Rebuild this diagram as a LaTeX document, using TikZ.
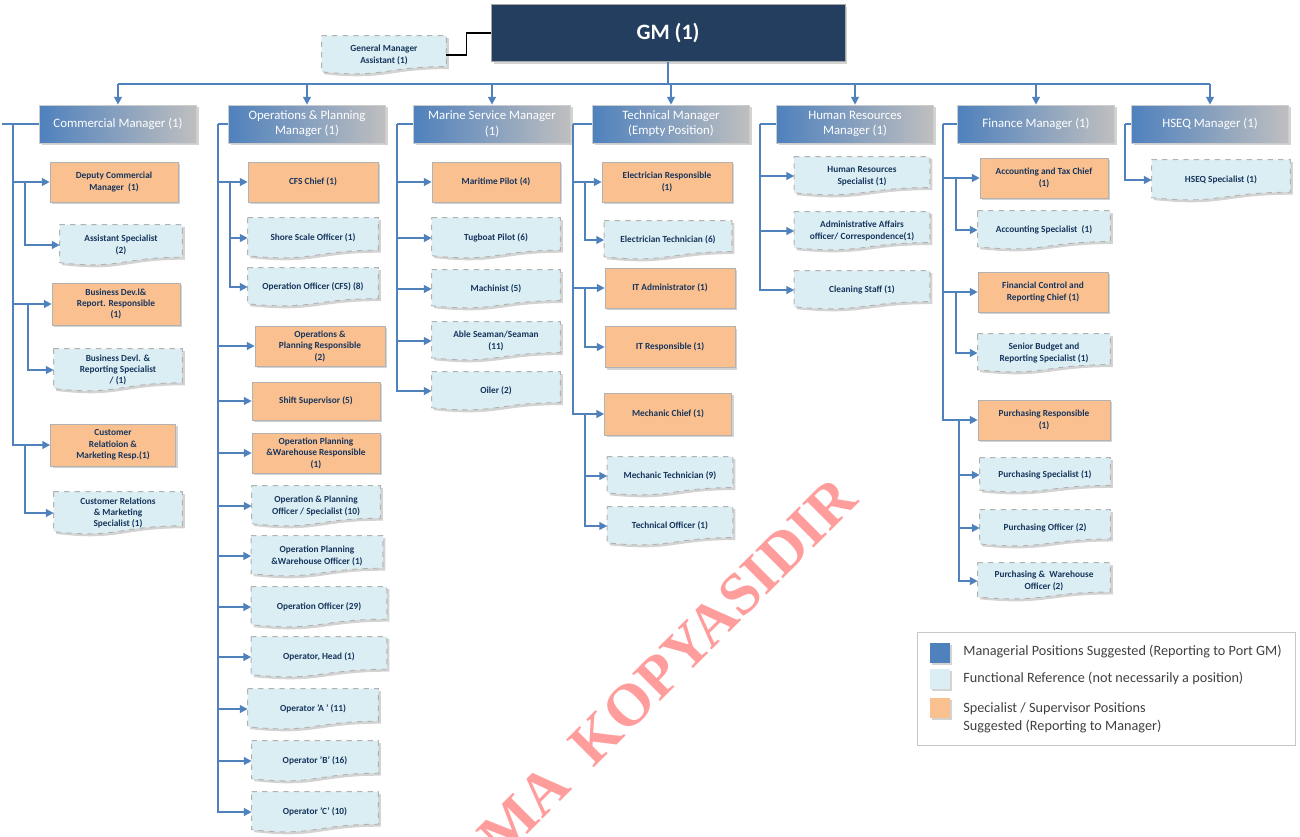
\documentclass[tikz,border=0pt]{standalone}
\usepackage{fontspec}
\setmainfont{Carlito}
\newfontfamily\markfont{Liberation Serif}
\usetikzlibrary{calc,arrows.meta,shadows,backgrounds}

\definecolor{gmnavy}{RGB}{36,62,96}
\definecolor{mgrblue}{RGB}{79,129,189}
\definecolor{mgrgray}{RGB}{191,191,191}
\definecolor{suporange}{RGB}{250,192,144}
\definecolor{reflight}{RGB}{219,238,244}
\definecolor{boxtext}{RGB}{23,54,93}
\definecolor{wmred}{RGB}{255,140,140}

\tikzset{
  x=0.02cm, y=-0.02cm,
  boxshadow/.style={drop shadow={opacity=0.35, shadow xshift=1.4pt, shadow yshift=-1.4pt}},
  gmbox/.style={fill=gmnavy, draw=gray!70, boxshadow, text=white, font=\bfseries\fontsize{12.5}{15}\selectfont,
    minimum width=7.08cm, minimum height=1.14cm},
  mgr/.style={left color=mgrblue, right color=mgrgray, draw=gray!40, boxshadow, text=white, align=center,
    font=\fontsize{7.3}{8.6}\selectfont, minimum width=3.14cm, minimum height=0.76cm, inner sep=1pt},
  sup/.style={fill=suporange, draw=gray!60, boxshadow, text=boxtext, align=center,
    font=\bfseries\fontsize{5.3}{6.5}\selectfont, minimum width=2.56cm, minimum height=0.8cm, inner sep=1pt},
  ref/.style={text=boxtext, align=center, font=\bfseries\fontsize{5.3}{6.5}\selectfont,
    minimum width=2.56cm, minimum height=0.8cm, inner sep=1pt},
  refbox/.style={fill=reflight, draw=gray!60, dashed, line width=0.5pt, boxshadow},
  link/.style={draw=mgrblue, line width=0.9pt, -{Triangle[length=4.5pt,width=4.5pt]}},
  bar/.style={draw=mgrblue, line width=0.9pt},
  legsq/.style={minimum size=0.4cm, inner sep=0pt, boxshadow},
  legtxt/.style={anchor=west, align=left, text=black!75, font=\fontsize{8.1}{10}\selectfont, inner sep=0pt}
}

% flowchart "document" outline round a ref node
\def\docshape#1{\filldraw[refbox] (#1.north west) -- (#1.north east)
  -- ($(#1.south east)!0.2!(#1.north east)$)
  .. controls ($(#1.south)!0.2!(#1.north)$) and ($(#1.south)!-0.108!(#1.north)$) ..
  ($(#1.south west)!0.066!(#1.north west)$) -- cycle;}

\begin{document}
\begin{tikzpicture}
\useasboundingbox (0,0) rectangle (1300,836);
%%%%% START %%%%%

% top
\node[gmbox] (gm) at (668,33) {GM (1)};
\node[ref, minimum width=2.48cm, minimum height=0.76cm] (gma) at (384,55) {General Manager\\Assistant (1)};
\draw[black, line width=0.9pt] (gma.east) -- ++(20,0) |- (gm.west);

\coordinate (bus) at (0,84);

% managers
\node[mgr] (cm) at (118,124) {Commercial Manager (1)};
\node[mgr] (om) at (307,124) {Operations \& Planning\\Manager (1)};
\node[mgr] (mm) at (492,124) {Marine Service Manager\\(1)};
\node[mgr] (tm) at (671,124) {Technical Manager\\(Empty Position)};
\node[mgr] (hm) at (855,124) {Human Resources\\Manager (1)};
\node[mgr] (fm) at (1036,124) {Finance Manager (1)};
\node[mgr] (qm) at (1210,124) {HSEQ Manager (1)};

\draw[bar] (gm.south) -- (gm.south |- bus);
\draw[bar] (cm.north |- bus) -- (qm.north |- bus);
\foreach \m in {cm,om,mm,tm,hm,fm,qm}
  \draw[link] (\m.north |- bus) -- (\m.north);

% commercial
\node[sup] (cm1) at (114,182) {Deputy Commercial\\Manager~~(1)};
\node[ref, minimum width=2.44cm] (cm2) at (121,245) {Assistant Specialist\\(2)};
\node[sup, minimum height=0.84cm] (cm3) at (116,304) {Business Dev.l\&\\Report. Responsible\\(1)};
\node[ref, minimum height=0.84cm] (cm4) at (118,370) {Business Devl. \&\\Reporting Specialist\\/ (1)};
\node[sup, minimum width=2.5cm, minimum height=0.84cm] (cm5) at (113,445) {Customer\\Relatioion \&\\Marketing Resp.(1)};
\node[ref, minimum height=0.84cm] (cm6) at (118,513) {Customer Relations\\\& Marketing\\Specialist (1)};

\coordinate (cmb) at (13,0);
\coordinate (cms) at (25,0);
\coordinate (cmt) at (28,0);
\draw[bar] (cm.west) -- ([xshift=-6]cm.west -| cmb);
\foreach \c in {cm1,cm3,cm5}
  \draw[link] (cm.west -| cmb) |- (\c.west);
\draw[link] (cm1.west -| cms) |- (cm2.west);
\draw[link] (cm3.west -| cmt) |- (cm4.west);
\draw[link] (cm5.west -| cms) |- (cm6.west);

% operations & planning
\node[sup, minimum width=2.6cm] (op1) at (313,182) {CFS Chief (1)};
\node[ref, minimum width=2.6cm] (op2) at (313,238) {Shore Scale Officer (1)};
\node[ref, minimum width=2.6cm, minimum height=0.76cm] (op3) at (313,287) {Operation Officer (CFS) (8)};
\node[sup, minimum width=2.6cm] (op4) at (320,346) {Operations \&\\Planning Responsible\\(2)};
\node[sup, minimum height=0.76cm] (op5) at (316,401) {Shift Supervisor (5)};
\node[sup] (op6) at (316,453) {Operation Planning\\\&Warehouse Responsible\\(1)};
\node[ref] (op7) at (316,506) {Operation \& Planning\\Officer / Specialist (10)};
\node[ref, minimum width=2.62cm] (op8) at (317,556) {Operation Planning\\\&Warehouse Officer (1)};
\node[ref, minimum width=2.7cm] (op9) at (319,607) {Operation Officer (29)};
\node[ref, minimum width=2.7cm] (op10) at (319,657) {Operator, Head (1)};
\node[ref, minimum width=2.6cm] (op11) at (313,709) {Operator 'A ' (11)};
\node[ref, minimum width=2.52cm] (op12) at (315,761) {Operator 'B' (16)};
\node[ref, minimum width=2.52cm] (op13) at (315,812) {Operator 'C' (10)};

\coordinate (opb) at (218,0);
\coordinate (ops) at (230,0);
\draw[bar] (om.west) -- (om.west -| opb);
\foreach \c in {op1,op4,op5,op6,op7,op8,op9,op10,op11,op12,op13}
  \draw[link] (om.west -| opb) |- (\c.west);
\foreach \c in {op2,op3}
  \draw[link] (op1.west -| ops) |- (\c.west);

% marine service
\node[sup] (ms1) at (496,182) {Maritime Pilot (4)};
\node[ref] (ms2) at (496,238) {Tugboat Pilot (6)};
\node[ref, minimum height=0.76cm] (ms3) at (496,289) {Machinist (5)};
\node[ref, minimum height=0.76cm] (ms4) at (496,341) {Able Seaman/Seaman\\(11)};
\node[ref, minimum height=0.76cm] (ms5) at (496,391) {Oiler (2)};

\coordinate (msb) at (397,0);
\draw[bar] (mm.west) -- (mm.west -| msb);
\foreach \c in {ms1,ms2,ms3,ms4,ms5}
  \draw[link] (mm.west -| msb) |- (\c.west);

% technical
\node[sup, minimum width=2.6cm] (tm1) at (667,182) {Electrician Responsible\\(1)};
\node[ref, minimum width=2.54cm, minimum height=0.76cm] (tm2) at (668,240) {Electrician Technician (6)};
\node[sup, minimum width=2.6cm] (tm3) at (670,288) {IT Administrator (1)};
\node[sup, minimum width=2.6cm, minimum height=0.82cm] (tm4) at (670,347) {IT Responsible (1)};
\node[sup, minimum width=2.54cm, minimum height=0.84cm] (tm5) at (668,414) {Mechanic Chief (1)};
\node[ref, minimum width=2.5cm, minimum height=0.76cm] (tm6) at (670,476) {Mechanic Technician (9)};
\node[ref, minimum width=2.5cm, minimum height=0.76cm] (tm7) at (670,526) {Technical Officer (1)};

\coordinate (tmb) at (573,0);
\coordinate (tms) at (585,0);
\draw[bar] (tm.west) -- (tm.west -| tmb);
\foreach \c in {tm1,tm3,tm5}
  \draw[link] (tm.west -| tmb) |- (\c.west);
\draw[link] (tm1.west -| tms) |- (tm2.west);
\draw[link] (tm3.west -| tms) |- (tm4.west);
\foreach \c in {tm6,tm7}
  \draw[link] (tm5.west -| tms) |- (\c.west);

% human resources
\node[ref, minimum width=2.7cm, minimum height=0.76cm] (hr1) at (862,176) {Human Resources\\Specialist (1)};
\node[ref, minimum width=2.7cm, minimum height=0.76cm] (hr2) at (862,231) {Administrative Affairs\\officer/ Correspondence(1)};
\node[ref, minimum width=2.7cm, minimum height=0.76cm] (hr3) at (862,290) {Cleaning Staff (1)};

\coordinate (hmb) at (760,0);
\draw[bar] (hm.west) -- (hm.west -| hmb);
\foreach \c in {hr1,hr2,hr3}
  \draw[link] (hm.west -| hmb) |- (\c.west);

% finance
\node[sup] (fm1) at (1044,178) {Accounting and Tax Chief\\(1)};
\node[ref, minimum width=2.64cm, minimum height=0.76cm] (fm2) at (1044,230) {Accounting Specialist~ (1)};
\node[sup, minimum width=2.6cm] (fm3) at (1043,292) {Financial Control and\\Reporting Chief (1)};
\node[ref, minimum width=2.64cm, minimum height=0.76cm] (fm4) at (1044,353) {Senior Budget and\\Reporting Specialist (1)};
\node[sup, minimum width=2.64cm] (fm5) at (1044,420) {Purchasing Responsible\\(1)};
\node[ref, minimum width=2.6cm, minimum height=0.68cm] (fm6) at (1045,475) {Purchasing Specialist (1)};
\node[ref, minimum width=2.6cm, minimum height=0.72cm] (fm7) at (1045,528) {Purchasing Officer (2)};
\node[ref, minimum width=2.64cm, minimum height=0.72cm] (fm8) at (1044,581) {Purchasing \&~ Warehouse\\Officer (2)};

\coordinate (fmb) at (943,0);
\coordinate (fms) at (956,0);
\coordinate (fmt) at (959,0);
\draw[bar] (fm.west) -- (fm.west -| fmb);
\foreach \c in {fm1,fm3,fm5}
  \draw[link] (fm.west -| fmb) |- (\c.west);
\draw[link] (fm1.west -| fms) |- (fm2.west);
\draw[link] (fm3.west -| fms) |- (fm4.west);
\foreach \c in {fm6,fm7,fm8}
  \draw[link] (fm5.west -| fmt) |- (\c.west);

% hseq
\node[ref, minimum width=2.76cm] (hs1) at (1221,180) {HSEQ Specialist (1)};
\coordinate (qmb) at (1125,0);
\draw[bar] (qm.west) -- (qm.west -| qmb);
\draw[link] (qm.west -| qmb) |- (hs1.west);

% dashed document outlines behind the ref texts
\begin{pgfonlayer}{background}
\foreach \r in {gma,cm2,cm4,cm6,op2,op3,op7,op8,op9,op10,op11,op12,op13,
  ms2,ms3,ms4,ms5,tm2,tm6,tm7,hr1,hr2,hr3,fm2,fm4,fm6,fm7,fm8,hs1}
  {\docshape{\r}}
\end{pgfonlayer}

% legend
\node[draw=gray!45, line width=0.6pt, minimum width=7.56cm, minimum height=2.26cm, anchor=north west] (leg) at (917,632) {};
\node[legsq, fill=mgrblue] (lg1) at (940,653) {};
\node[legsq, fill=reflight] (lg2) at (940,679) {};
\node[legsq, fill=suporange] (lg3) at (940,708) {};
\node[legtxt] (lt1) at (963,652) {Managerial Positions Suggested (Reporting to Port GM)};
\node[legtxt] (lt2) at (963,678) {Functional Reference (not necessarily a position)};
\node[legtxt] (lt3) at (963,718) {Specialist / Supervisor Positions\\Suggested (Reporting to Manager)};

% watermark
\begin{scope}
\clip (0,0) rectangle (1300,836);
\node[text=wmred, opacity=0.85, rotate=45, anchor=base east, inner sep=0pt,
  font=\markfont\bfseries\fontsize{34}{34}\selectfont] (wm) at (860,502) {MA~~KOPYASIDIR};
\end{scope}

%%%%% END %%%%%
\end{tikzpicture}
\end{document}
